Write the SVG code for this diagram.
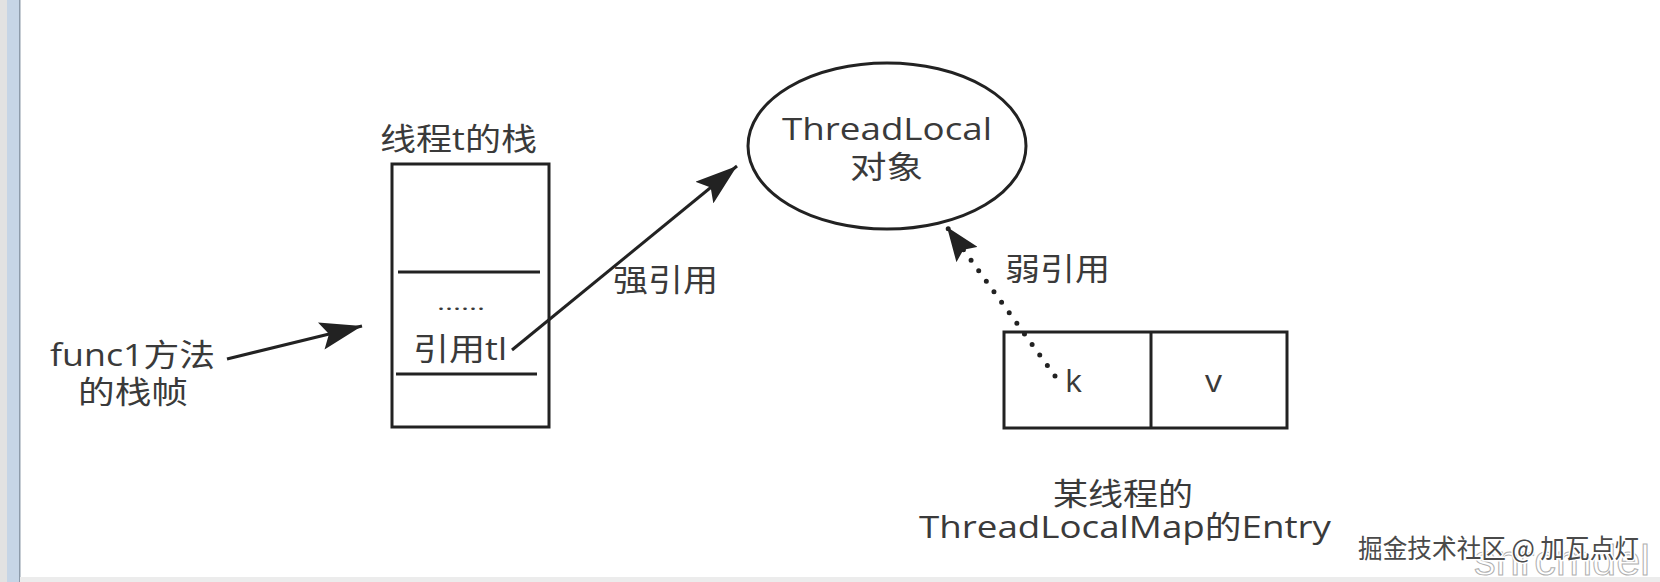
<svg xmlns="http://www.w3.org/2000/svg" width="1660" height="582" viewBox="0 0 1660 582">
<style>
.t{font-family:"Open Sans","Noto Sans CJK SC",sans-serif;font-size:31px;fill:#3a3a3a}
.s{fill:none;stroke:#222;stroke-width:3}
.ln{stroke:#222;stroke-width:3;fill:none}
.dot{stroke:#222;stroke-width:5;stroke-dasharray:0 13;stroke-linecap:round;fill:none}
</style>
<defs>
<marker id="arr" viewBox="0 0 42 28" refX="42" refY="14" markerWidth="42" markerHeight="28" markerUnits="userSpaceOnUse" orient="auto">
<path d="M0,0 L42,14 L0,28 L8,14 Z" fill="#222" stroke="none"/>
</marker>
<marker id="arrw" viewBox="0 0 34 26" refX="34" refY="13" markerWidth="34" markerHeight="26" markerUnits="userSpaceOnUse" orient="auto">
<path d="M0,0 L34,13 L0,26 L6,13 Z" fill="#222" stroke="none"/>
</marker>
</defs>
<rect width="1660" height="582" fill="#ffffff"/>
<g id="frame">
<rect x="0" y="0" width="7" height="582" fill="#e2e2e2"/>
<rect x="7" y="0" width="12" height="582" fill="#c6d5e6"/>
<rect x="19" y="0" width="1.5" height="582" fill="#8d9baa"/>
<rect x="20" y="577" width="1640" height="5" fill="#ececec"/>
</g>
<g id="stack">
<text class="t" x="380" y="150" textLength="157" lengthAdjust="spacingAndGlyphs">线程t的栈</text>
<rect class="s" x="392" y="164" width="157" height="263"/>
<line class="ln" x1="398" y1="272" x2="540" y2="272"/>
<line class="ln" x1="396" y1="374" x2="537" y2="374"/>
<text class="t" x="437" y="310" textLength="48" lengthAdjust="spacingAndGlyphs" style="font-size:20px">......</text>
<text class="t" x="413" y="360" textLength="94" lengthAdjust="spacingAndGlyphs">引用tl</text>
</g>
<g id="func1">
<text class="t" x="50" y="366" textLength="165" lengthAdjust="spacingAndGlyphs">func1方法</text>
<text class="t" x="78" y="403" textLength="110" lengthAdjust="spacingAndGlyphs">的栈帧</text>
</g>
<g id="threadlocal">
<ellipse class="s" cx="887" cy="146" rx="139" ry="83"/>
<text class="t" x="782" y="140" textLength="210" lengthAdjust="spacingAndGlyphs">ThreadLocal</text>
<text class="t" x="850" y="178" textLength="73" lengthAdjust="spacingAndGlyphs">对象</text>
</g>
<g id="entry">
<rect class="s" x="1004" y="332" width="283" height="96"/>
<line class="ln" x1="1151" y1="332" x2="1151" y2="428"/>
<text class="t" x="1065" y="392" textLength="17" lengthAdjust="spacingAndGlyphs">k</text>
<text class="t" x="1205" y="392" textLength="17" lengthAdjust="spacingAndGlyphs">v</text>
<text class="t" x="1053" y="505" textLength="140" lengthAdjust="spacingAndGlyphs">某线程的</text>
<text class="t" x="919" y="538" textLength="412" lengthAdjust="spacingAndGlyphs">ThreadLocalMap的Entry</text>
</g>
<g id="connectors">
<line class="ln" x1="227" y1="359" x2="362" y2="326" marker-end="url(#arr)"/>
<line class="ln" x1="512" y1="350" x2="737" y2="166" marker-end="url(#arr)"/>
<path class="dot" d="M1055,376 L947,227" marker-end="url(#arrw)"/>
<text class="t" x="613" y="291" textLength="105" lengthAdjust="spacingAndGlyphs">强引用</text>
<text class="t" x="1005" y="280" textLength="105" lengthAdjust="spacingAndGlyphs">弱引用</text>
</g>
<g id="watermark">
<text x="1474" y="575" textLength="176" lengthAdjust="spacingAndGlyphs" style="font-family:'Liberation Sans',sans-serif;font-size:42px;fill:none;stroke:#b0b0b0;stroke-width:1">snrcmdel</text>
<text x="1358" y="558" textLength="281" lengthAdjust="spacingAndGlyphs" style="font-family:'Noto Sans CJK SC',sans-serif;font-size:26px;fill:#4a4a4a;stroke:#ffffff;stroke-width:3;paint-order:stroke">掘金技术社区 @ 加瓦点灯</text>
</g>
</svg>
